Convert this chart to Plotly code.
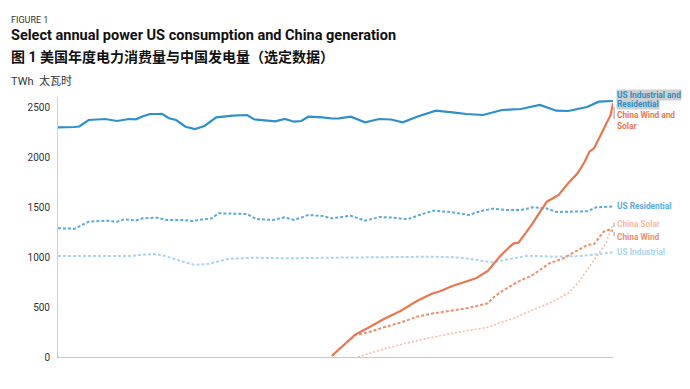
import plotly.graph_objects as go

# ---------------- data (TWh, rolling annual) ----------------
us_total_x = [2001.0, 2001.5, 2001.7, 2001.9, 2002.3, 2003.0, 2003.5, 2004.0, 2004.3, 2004.6,
              2004.9, 2005.2, 2005.4, 2005.7, 2006.0, 2006.4, 2006.8, 2007.2, 2007.7, 2008.4,
              2009.0, 2009.3, 2009.9, 2010.2, 2010.6, 2011.0, 2011.3, 2011.6, 2012.2, 2012.6,
              2012.9, 2013.4, 2014.0, 2014.6, 2015.1, 2015.6, 2016.2, 2017.0, 2017.7, 2018.3,
              2019.0, 2019.8, 2020.6, 2021.4, 2022.1, 2022.6, 2023.0, 2023.4, 2023.9, 2024.5]
us_total_y = [2297, 2297, 2300, 2305, 2370, 2380, 2360, 2380, 2377, 2407,
              2430, 2430, 2432, 2387, 2370, 2303, 2280, 2310, 2397, 2413,
              2420, 2377, 2363, 2357, 2380, 2353, 2360, 2403, 2397, 2385,
              2387, 2403, 2347, 2380, 2375, 2347, 2403, 2463, 2447, 2430,
              2420, 2470, 2480, 2520, 2463, 2460, 2480, 2500, 2553, 2560]

us_res_x = [2001.0, 2001.5, 2001.7, 2002.3, 2003.0, 2003.5, 2003.8, 2004.3, 2004.6, 2005.2,
            2005.6, 2006.3, 2006.7, 2007.1, 2007.5, 2007.8, 2008.5, 2009.0, 2009.4, 2010.1,
            2010.6, 2011.0, 2011.6, 2012.2, 2012.6, 2012.8, 2013.4, 2014.0, 2014.6, 2015.1,
            2015.8, 2016.3, 2016.9, 2017.7, 2018.4, 2018.9, 2019.4, 2020.0, 2020.6, 2021.1,
            2021.7, 2022.1, 2022.8, 2023.4, 2023.8, 2024.5]
us_res_y = [1287, 1280, 1283, 1353, 1363, 1353, 1377, 1365, 1387, 1393,
            1370, 1370, 1360, 1375, 1387, 1437, 1437, 1430, 1380, 1370,
            1397, 1370, 1420, 1410, 1387, 1393, 1413, 1363, 1400, 1395,
            1377, 1420, 1463, 1447, 1420, 1460, 1483, 1470, 1470, 1497,
            1485, 1450, 1457, 1457, 1497, 1505]

us_ind_x = [2001.0, 2003.4, 2004.0, 2005.0, 2005.5, 2006.3, 2006.8, 2007.4, 2008.2, 2009.3,
            2010.7, 2012.6, 2014.9, 2016.8, 2018.0, 2018.9, 2019.4, 2020.0, 2020.9, 2022.0,
            2023.1, 2023.9, 2024.5]
us_ind_y = [1010, 1010, 1010, 1030, 1013, 953, 920, 933, 980, 993,
            987, 993, 997, 1003, 995, 963, 947, 975, 1013, 1003,
            1010, 1030, 1047]

cn_ws_x = [2012.6, 2013.1, 2013.6, 2014.1, 2014.8, 2015.5, 2016.2, 2016.8, 2017.2, 2017.7,
           2018.3, 2018.7, 2019.2, 2019.4, 2019.7, 2020.1, 2020.3, 2020.5, 2021.0, 2021.7,
           2022.2, 2022.6, 2023.0, 2023.3, 2023.5, 2023.7, 2024.1, 2024.4, 2024.5]
cn_ws_y = [13, 120, 227, 287, 380, 460, 560, 630, 660, 710,
           753, 787, 860, 920, 1003, 1097, 1137, 1143, 1303, 1553,
           1620, 1737, 1837, 1953, 2053, 2087, 2270, 2420, 2537]

cn_wind_x = [2012.6, 2013.1, 2013.6, 2014.1, 2014.8, 2015.5, 2016.2, 2016.9, 2017.6, 2018.3,
             2019.2, 2019.4, 2019.7, 2020.4, 2021.1, 2021.8, 2022.4, 2022.8, 2023.4, 2023.7,
             2024.1, 2024.4, 2024.5]
cn_wind_y = [13, 120, 222, 243, 297, 343, 403, 437, 460, 487,
             537, 587, 643, 743, 820, 937, 987, 1037, 1120, 1130,
             1253, 1277, 1255]

cn_solar_x = [2013.7, 2014.9, 2016.3, 2017.7, 2019.2, 2019.7, 2020.4, 2021.1, 2021.8, 2022.6,
              2023.0, 2023.4, 2023.8, 2024.2, 2024.5]
cn_solar_y = [0, 87, 170, 237, 297, 337, 397, 470, 537, 637,
              737, 870, 1003, 1137, 1330]

y_ticks = [0, 500, 1000, 1500, 2000, 2500]

# ---------------- styling ----------------
C_TOTAL = "#2E8FCA"
C_RES = "#5BA9DC"
C_IND = "#A8D5EF"
C_WS = "#E8774F"
C_WIND = "#EE8E6C"
C_SOLAR = "#F6BBA6"
FONT = "Roboto, 'Noto Sans CJK SC', sans-serif"

fig = go.Figure()
fig.add_trace(go.Scatter(x=us_ind_x, y=us_ind_y, mode="lines",
                         line=dict(color=C_IND, width=2, dash="3px,2px"), name="US Industrial"))
fig.add_trace(go.Scatter(x=us_res_x, y=us_res_y, mode="lines",
                         line=dict(color=C_RES, width=2, dash="3px,2px"), name="US Residential"))
fig.add_trace(go.Scatter(x=us_total_x, y=us_total_y, mode="lines",
                         line=dict(color=C_TOTAL, width=2.2), name="US Industrial and Residential"))
fig.add_trace(go.Scatter(x=cn_solar_x, y=cn_solar_y, mode="lines",
                         line=dict(color=C_SOLAR, width=1.6, dash="2px,2px"), name="China Solar"))
fig.add_trace(go.Scatter(x=cn_wind_x, y=cn_wind_y, mode="lines",
                         line=dict(color=C_WIND, width=2, dash="3px,2px"), name="China Wind"))
fig.add_trace(go.Scatter(x=cn_ws_x, y=cn_ws_y, mode="lines",
                         line=dict(color=C_WS, width=2.2), name="China Wind and Solar"))

LX = -0.089
annotations = [
    dict(text="FIGURE 1", x=LX, y=1.296, font=dict(size=9, color="#333333")),
    dict(text="<b>Select annual power US consumption and China generation</b>", x=LX, y=1.236,
         font=dict(size=14.5, color="#111111")),
    dict(text="<b>图 1 美国年度电力消费量与中国发电量（选定数据）</b>", x=LX, y=1.152,
         font=dict(size=14, color="#111111")),
    dict(text="TWh  太瓦时", x=LX, y=1.06, font=dict(size=11, color="#333333")),
]
for a in annotations:
    a.update(xref="paper", yref="paper", xanchor="left", yanchor="middle", showarrow=False, align="left")

# (text, y in paper fraction of plot height, colour, highlight)
right_labels = [
    ("<b>US Industrial and</b>", 1.008, C_TOTAL, "#CFCFCF"),
    ("<b>Residential</b>", 0.972, C_TOTAL, "#CFCFCF"),
    ("<b>China Wind and<br>Solar</b>", 0.91, C_WS, None),
    ("<b>US Residential</b>", 0.581, C_RES, None),
    ("<b>China Solar</b>", 0.512, C_SOLAR, None),
    ("<b>China Wind</b>", 0.462, C_WIND, None),
    ("<b>US Industrial</b>", 0.404, C_IND, None),
]
for txt, yv, col, bg in right_labels:
    d = dict(text=txt, x=1.0, y=yv, xref="paper", yref="paper", xanchor="left", yanchor="middle",
             xshift=3, showarrow=False, align="left", font=dict(size=8.3, color=col),
             borderpad=0)
    if bg:
        d["bgcolor"] = bg
    annotations.append(d)

shapes = [
    dict(type="line", xref="paper", yref="y", x0=1.002, x1=1.002, y0=2500, y1=2380,
         line=dict(color="#999999", width=1)),
    dict(type="line", xref="paper", yref="y", x0=1.002, x1=1.002, y0=1340, y1=1300,
         line=dict(color="#999999", width=1)),
    dict(type="line", xref="paper", yref="y", x0=1.002, x1=1.002, y0=1250, y1=1210,
         line=dict(color="#999999", width=1)),
]

fig.update_layout(
    width=682, height=381,
    margin=dict(l=50, r=77, t=89, b=32),
    paper_bgcolor="white", plot_bgcolor="white",
    showlegend=False,
    font=dict(family=FONT, size=10, color="#333333"),
    annotations=annotations,
    shapes=shapes,
    xaxis=dict(range=[2001.0, 2024.5], showticklabels=False, ticks="", showgrid=False,
               zeroline=False, showline=True, linecolor="#C8C8C8", linewidth=1),
    yaxis=dict(range=[0, 2600], tickvals=y_ticks, ticktext=[str(v) for v in y_ticks],
               showgrid=False, zeroline=False, showline=True, linecolor="#D0D0D0", linewidth=1,
               ticks="", ticklabelstandoff=5, tickfont=dict(size=10, color="#333333")),
)

fig.write_html("out.html")
